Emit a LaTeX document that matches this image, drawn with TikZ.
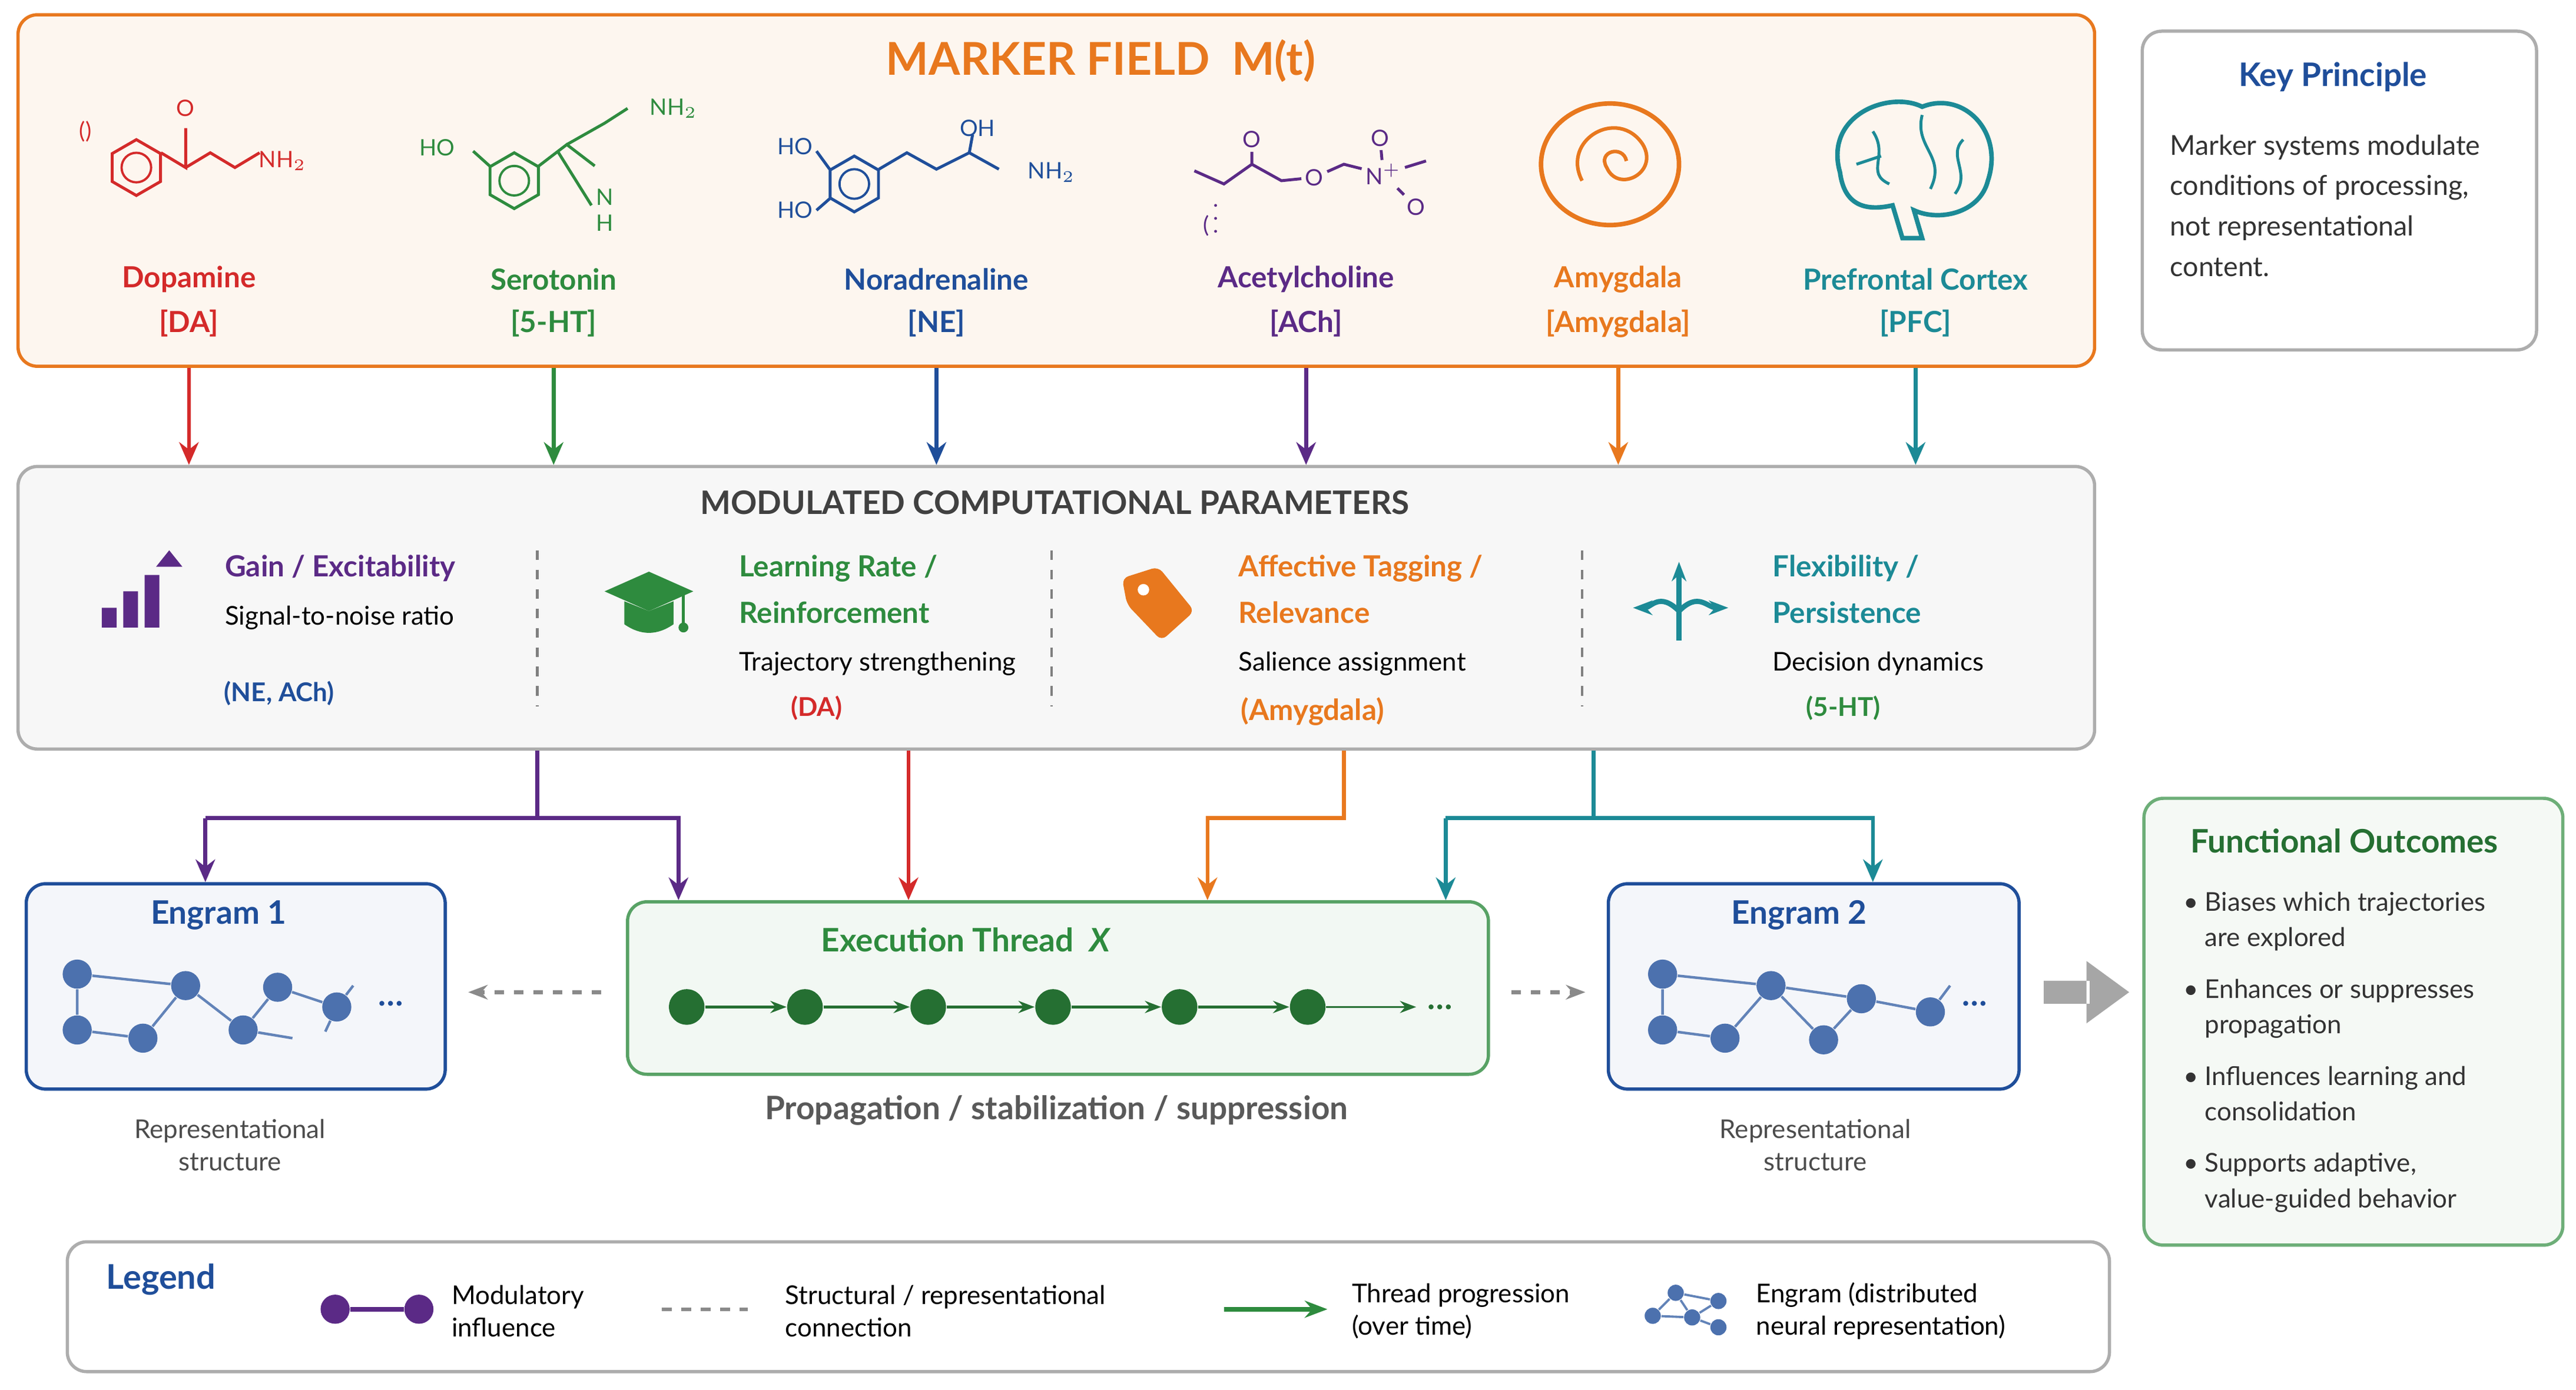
\documentclass[tikz,border=0pt]{standalone}
\usepackage{fontspec}
\setmainfont{Lato}
\usetikzlibrary{arrows.meta,positioning,calc,shapes.geometric}
\definecolor{cRed}{HTML}{D42A2A}
\definecolor{cGreen}{HTML}{2E8B3E}
\definecolor{cBlue}{HTML}{1F4E9A}
\definecolor{cPurple}{HTML}{5B2A86}
\definecolor{cOrange}{HTML}{E8781E}
\definecolor{cTeal}{HTML}{1C8A96}
\definecolor{cGray}{HTML}{8A8A8A}
\definecolor{cNavy}{HTML}{1F3F8F}
\newcommand{\hexring}[3]{% centre x, centre y, colour
  \draw[#3,line width=0.9pt] (#1,#2) ++(90:17) -- ++(-30:17) -- ++(-90:17) -- ++(-150:17) -- ++(150:17) -- ++(90:17) -- cycle;
  \draw[#3,line width=0.7pt] (#1,#2) circle (9);}
\begin{document}
\begin{tikzpicture}[x=0.01786cm,y=-0.01786cm,
  box/.style={draw,rounded corners=6pt,line width=1pt},
  mname/.style={font=\fontsize{9}{10}\selectfont\bfseries},
  ptitle/.style={font=\fontsize{9}{11}\selectfont\bfseries,anchor=west},
  ptext/.style={font=\fontsize{8}{10}\selectfont,anchor=west},
  atom/.style={font=\fontsize{7}{8}\selectfont,inner sep=1pt},
  small/.style={font=\fontsize{8}{10}\selectfont,align=center},
  mod/.style={line width=1.2pt,-{Stealth[length=7pt,width=6pt]}},
  dot/.style={circle,fill=#1,inner sep=0pt,minimum size=7pt},
  edot/.style={circle,fill=cBlue!80,inner sep=0pt,minimum size=9pt}]
\useasboundingbox (0,0) rectangle (1568,846);
%marker field
\node[box,draw=cOrange,fill=cOrange!7,minimum width=1264*0.01786cm,minimum height=214*0.01786cm,anchor=north west] (marker) at (10,8) {};
\node[text=cOrange,font=\fontsize{14}{16}\selectfont\bfseries] (mtitle) at (670,37) {MARKER FIELD\ \ M(t)};
\foreach \X/\Nom/\Tag/\Col/\Id in {115/Dopamine/DA/cRed/da,337/Serotonin/5-HT/cGreen/sht,570/Noradrenaline/NE/cBlue/ne,795/Acetylcholine/ACh/cPurple/ach,985/Amygdala/Amygdala/cOrange/amy,1166/Prefrontal Cortex/PFC/cTeal/pfc}{
  \node[mname,text=\Col] (\Id name) at (\X,170) {\Nom};
  \node[mname,text=\Col] (\Id) at (\X,197) {[\Tag]};}
%molecules
\hexring{83}{102}{cRed}
\draw[cRed,line width=0.9pt] (98,93)--(113,102)--(113,78) (113,102)--(128,93)--(143,102)--(158,93);
\node[atom,cRed] (daO) at (113,66) {O};
\node[atom,cRed] (daN) at (172,98) {NH$_2$};
\node[atom,cRed] (daX) at (52,80) {()};
\hexring{313}{110}{cGreen}
\draw[cGreen,line width=0.9pt] (298,101)--(288,92) (328,101)--(345,88)--(362,101) (345,88)--(368,75)--(382,66) (340,93)--(360,125);
\node[atom,cGreen] (shtHO) at (266,90) {HO};
\node[atom,cGreen] (shtN) at (410,66) {NH$_2$};
\node[atom,cGreen,align=center] (shtNH) at (368,128) {N\\H};
\hexring{520}{112}{cBlue}
\draw[cBlue,line width=0.9pt] (535,103)--(552,93)--(570,103)--(590,93)--(608,103) (590,93)--(592,82) (505,103)--(497,92) (505,121)--(497,128);
\node[atom,cBlue] (neHO1) at (484,89) {HO};
\node[atom,cBlue] (neHO2) at (484,128) {HO};
\node[atom,cBlue] (neOH) at (595,78) {OH};
\node[atom,cBlue] (neN) at (640,105) {NH$_2$};
\node[atom,cPurple] (achO) at (762,85) {O};
\node[atom,cPurple] (achO2) at (800,108) {O};
\node[atom,cPurple] (achN) at (842,106) {N$^+$};
\node[atom,cPurple] (achO3) at (840,84) {O};
\node[atom,cPurple] (achO4) at (862,126) {O};
\node[atom,cPurple] (achX) at (737,128) {(\,$\vdots$};
\draw[cPurple,line width=0.9pt] (727,104)--(745,112)--(762,100)--(780,110)--(achO2) (762,100)--(achO) (achO2)--(818,100)--(achN) (achN)--(achO3) (achN)--(achO4) (achN)--(868,98);
%amygdala icon
\draw[cOrange,line width=1.4pt] (980,100) ellipse (42 and 37);
\draw[cOrange,line width=1.1pt] (963,110) .. controls (950,85) and (985,65) .. (1000,88) .. controls (1010,105) and (985,118) .. (978,102) .. controls (972,92) and (988,88) .. (990,98);
%brain icon
\draw[cTeal,line width=1.4pt] (1120,105) .. controls (1110,70) and (1150,55) .. (1170,65) .. controls (1195,55) and (1220,80) .. (1210,110) .. controls (1205,130) and (1180,135) .. (1165,128) -- (1170,145) -- (1158,145) -- (1152,125) .. controls (1130,130) and (1122,120) .. (1120,105);
\draw[cTeal,line width=0.9pt] (1140,80) .. controls (1150,95) and (1135,105) .. (1150,112) (1170,70) .. controls (1165,90) and (1185,95) .. (1175,115) (1195,85) .. controls (1185,95) and (1200,105) .. (1190,118) (1130,100) -- (1145,95);
%parameters
\node[box,draw=cGray!70,fill=gray!6,minimum width=1264*0.01786cm,minimum height=172*0.01786cm,anchor=north west] (params) at (10,283) {};
\foreach \Id/\Col in {da/cRed,sht/cGreen,ne/cBlue,ach/cPurple,amy/cOrange,pfc/cTeal}
  \draw[mod,\Col] (marker.south -| \Id) -- (params.north -| \Id);
\node[font=\fontsize{10}{12}\selectfont\bfseries,text=black!75] (ptitle) at (642,306) {MODULATED COMPUTATIONAL PARAMETERS};
\foreach \X in {327,640,963}
  \draw[dashed,gray,line width=0.8pt] (\X,335) -- (\X,430);
\node[ptitle,text=cPurple] (gain) at (130,346) {Gain / Excitability};
\node[ptext] (gaint) at (130,376) {Signal-to-noise ratio};
\node[ptitle,text=cBlue,font=\fontsize{8}{10}\selectfont\bfseries,anchor=center] (gainm) at (170,422) {(NE, ACh)};
\node[ptitle,text=cGreen] (learn) at (443,346) {Learning Rate /};
\node[ptitle,text=cGreen] (learn2) at (443,373) {Reinforcement};
\node[ptext] (learnt) at (443,404) {Trajectory strengthening};
\node[ptitle,text=cRed,font=\fontsize{8}{10}\selectfont\bfseries,anchor=center] (learnm) at (497,431) {(DA)};
\node[ptitle,text=cOrange] (aff) at (747,346) {Affective Tagging /};
\node[ptitle,text=cOrange] (aff2) at (747,373) {Relevance};
\node[ptext] (afft) at (747,404) {Salience assignment};
\node[ptitle,text=cOrange,anchor=center] (affm) at (799,433) {(Amygdala)};
\node[ptitle,text=cTeal] (flex) at (1072,346) {Flexibility /};
\node[ptitle,text=cTeal] (flex2) at (1072,373) {Persistence};
\node[ptext] (flext) at (1072,404) {Decision dynamics};
\node[ptitle,text=cGreen,font=\fontsize{8}{10}\selectfont\bfseries,anchor=center] (flexm) at (1122,431) {(5-HT)};
%param icons
\fill[cPurple] (62,370) rectangle (71,382) (75,360) rectangle (84,382) (88,350) rectangle (97,382);
\fill[cPurple] (95,345) -- (103,335) -- (111,345) -- cycle;
\fill[cGreen] (368,360) -- (395,348) -- (422,360) -- (395,372) -- cycle;
\fill[cGreen] (380,366) -- (380,380) .. controls (390,387) and (400,387) .. (410,380) -- (410,366) -- (395,372) -- cycle;
\draw[cGreen,line width=1pt] (416,362) -- (416,380);
\fill[cGreen] (416,382) circle (3);
\fill[cOrange,rounded corners=2pt] (683,352) -- (705,345) -- (727,372) -- (707,390) -- (686,368) -- cycle;
\fill[white] (696,359) circle (3.5);
\draw[cTeal,line width=1.6pt,-{Stealth[length=6pt]}] (1022,390) -- (1022,342);
\draw[cTeal,line width=1.6pt,-{Stealth[length=6pt]}] (1022,372) .. controls (1010,360) and (1005,370) .. (994,370);
\draw[cTeal,line width=1.6pt,-{Stealth[length=6pt]}] (1022,372) .. controls (1034,360) and (1039,370) .. (1052,370);
%engrams and thread
\node[box,draw=cBlue,fill=cBlue!5,minimum width=255*0.01786cm,minimum height=125*0.01786cm,anchor=north west] (eng1) at (15,537) {};
\node[box,draw=cGreen!80,fill=cGreen!6,minimum width=524*0.01786cm,minimum height=105*0.01786cm,anchor=north west] (exec) at (381,548) {};
\node[box,draw=cBlue,fill=cBlue!5,minimum width=250*0.01786cm,minimum height=125*0.01786cm,anchor=north west] (eng2) at (978,537) {};
\node[mname,text=cBlue,font=\fontsize{10}{12}\selectfont\bfseries] (eng1t) at (133,557) {Engram 1};
\node[mname,text=cBlue,font=\fontsize{10}{12}\selectfont\bfseries] (eng2t) at (1095,557) {Engram 2};
\node[mname,text=cGreen,font=\fontsize{10}{12}\selectfont\bfseries] (exect) at (588,572) {Execution Thread\ \ \textit{X}};
\foreach \Id/\X/\Y in {a/47/593,b/47/627,c/87/632,d/113/600,e/148/627,f/169/601,g/205/613}
  \node[edot] (e1\Id) at (\X,\Y) {};
\draw[cBlue!70,line width=0.8pt] (e1a)--(e1d) (e1a)--(e1b) (e1b)--(e1c) (e1c)--(e1d) (e1d)--(e1e) (e1e)--(e1f) (e1f)--(e1g) (e1e)--(178,632) (e1g)--(215,600) (e1g)--(198,628);
\node[text=cBlue,font=\bfseries] (e1dots) at (238,611) {\dots};
\foreach \Id/\X/\Y in {a/1012/593,b/1012/627,c/1050/632,d/1078/600,e/1110/633,f/1133/608,g/1175/616}
  \node[edot] (e2\Id) at (\X,\Y) {};
\draw[cBlue!70,line width=0.8pt] (e2a)--(e2d) (e2a)--(e2b) (e2b)--(e2c) (e2c)--(e2d) (e2d)--(e2e) (e2d)--(e2f) (e2e)--(e2f) (e2f)--(e2g) (e2g)--(1187,600);
\node[text=cBlue,font=\bfseries] (e2dots) at (1202,611) {\dots};
\foreach \Id/\X in {1/418,2/490,3/565,4/641,5/718,6/796}
  \node[dot=cGreen!80!black,minimum size=11pt] (t\Id) at (\X,613) {};
\foreach \A/\B in {1/2,2/3,3/4,4/5,5/6}
  \draw[cGreen!80!black,line width=1pt,-{Stealth[length=5pt]}] (t\A) -- (t\B);
\coordinate (tend) at (862,613);
\draw[cGreen!80!black,line width=0.6pt,-{Stealth[length=5pt]}] (t6) -- (tend);
\node[text=cGreen!80!black,font=\bfseries,right=0pt of tend] (tdots) {\dots};
\coordinate (l1) at (285,604);
\coordinate (r1) at (965,604);
\draw[cGray,dashed,line width=1.2pt,-{Stealth[length=6pt]}] (exec.west |- l1) ++(-15,0) -- (l1);
\draw[cGray,dashed,line width=1.2pt,-{Stealth[length=6pt]}] (exec.east |- r1) ++(13,0) -- (r1);
\node[small,text=black!70] (eng1s) at (140,697) {Representational\\structure};
\node[small,text=black!70] (eng2s) at (1105,697) {Representational\\structure};
\node[text=black!65,font=\fontsize{10}{12}\selectfont\bfseries] (prop) at (643,676) {Propagation\ /\ stabilization\ /\ suppression};
%modulatory arrows
\draw[cPurple,line width=1.2pt] (params.south -| 327,0) -- (327,498);
\draw[mod,cPurple] (125,498) -- (eng1.north -| 125,0);
\draw[mod,cPurple] (125,498) -- (413,498) -- (exec.north -| 413,0);
\draw[mod,cRed] (params.south -| 553,0) -- (exec.north -| 553,0);
\draw[mod,cOrange] (params.south -| 818,0) -- (818,498) -- (735,498) -- (exec.north -| 735,0);
\draw[cTeal,line width=1.2pt] (params.south -| 970,0) -- (970,498);
\draw[mod,cTeal] (880,498) -- (exec.north -| 880,0);
\draw[mod,cTeal] (880,498) -- (1140,498) -- (eng2.north -| 1140,0);
%outcomes
\fill[gray!70] (1244,597) rectangle (1272,611) (1270,585) -- (1296,604) -- (1270,623) -- cycle;
\node[box,draw=cGray!70,fill=white,minimum width=240*0.01786cm,minimum height=194*0.01786cm,anchor=north west] (key) at (1303,18) {};
\node[text=cBlue,font=\fontsize{10}{12}\selectfont\bfseries] (keyt) at (1420,47) {Key Principle};
\node[ptext,text=black!80,align=left,font=\fontsize{8.5}{12.5}\selectfont,anchor=north west] (keyx) at (1314,75) {Marker systems modulate\\conditions of processing,\\not representational\\content.};
\node[box,draw=cGreen!70,fill=cGreen!5,minimum width=255*0.01786cm,minimum height=272*0.01786cm,anchor=north west] (out) at (1304,485) {};
\node[text=cGreen!80!black,font=\fontsize{10}{12}\selectfont\bfseries] (outt) at (1427,512) {Functional Outcomes};
\foreach \Y/\T in {546/{Biases which trajectories\\are explored},599/{Enhances or suppresses\\propagation},652/{Influences learning and\\consolidation},705/{Supports adaptive,\\value-guided behavior}}
  \node[ptext,text=black!80,align=left,anchor=north west,font=\fontsize{8}{11}\selectfont] at (1322,\Y-10) {\textbullet\ \parbox[t]{4.1cm}{\raggedright\T}};
%legend
\node[box,draw=cGray!70,fill=white,minimum width=1243*0.01786cm,minimum height=79*0.01786cm,anchor=north west] (legend) at (40,755) {};
\node[text=cBlue,font=\fontsize{10.5}{12}\selectfont\bfseries] (legt) at (98,779) {Legend};
\node[dot=cPurple,minimum size=9pt] (lga) at (204,797) {};
\node[dot=cPurple,minimum size=9pt] (lgb) at (255,797) {};
\draw[cPurple,line width=1.4pt] (lga) -- (lgb);
\node[ptext,align=left] (lgat) at (268,798) {Modulatory\\influence};
\coordinate (lgc) at (403,797);
\coordinate (lgd) at (455,797);
\draw[cGray,dashed,line width=1.1pt] (lgc) -- (lgd);
\node[ptext,align=left] (lgct) at (471,798) {Structural / representational\\connection};
\coordinate (lge) at (745,797);
\coordinate (lgf) at (808,797);
\draw[cGreen,line width=1.4pt,-{Stealth[length=7pt]}] (lge) -- (lgf);
\node[ptext,align=left] (lget) at (816,798) {Thread progression\\(over time)};
\foreach \Id/\X/\Y in {p/1006/801,q/1020/787,r/1030/802,s/1046/792,t/1046/808}
  \node[dot=cBlue!80,minimum size=5pt] (lg\Id) at (\X,\Y) {};
\draw[cBlue!70,line width=0.7pt] (lgp)--(lgq) (lgq)--(lgr) (lgp)--(lgr) (lgr)--(lgs) (lgr)--(lgt) (lgq)--(lgs);
\node[ptext,align=left] (lgpt) at (1062,798) {Engram (distributed\\neural representation)};
\end{tikzpicture}
\end{document}
